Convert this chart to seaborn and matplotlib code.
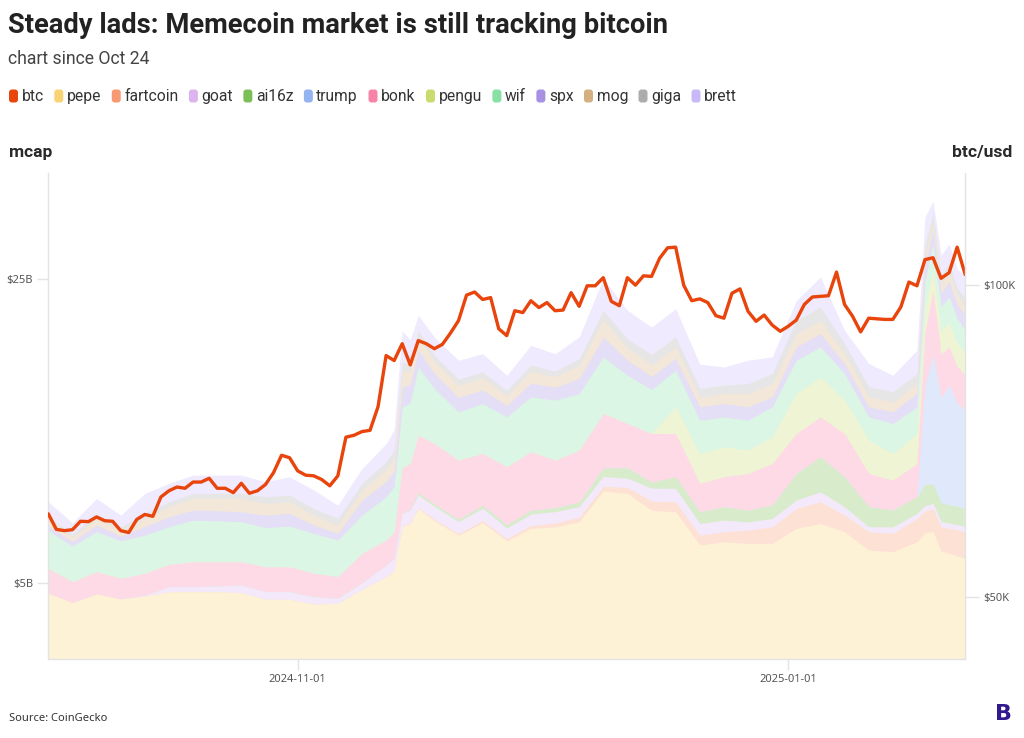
import matplotlib.pyplot as plt
import matplotlib.colors as mcolors
from matplotlib.patches import FancyBboxPatch
import seaborn as sns
import pandas as pd
import numpy as np

plt.switch_backend('Agg')
sns.set_theme(style="white")
COND = ['Liberation Sans Narrow', 'Roboto', 'DejaVu Sans']
plain = ['Noto Sans', 'DejaVu Sans']
plt.rcParams['font.family'] = COND

# ---- data -----------------------------------------------------------------
START = "2024-10-01"

# btc/usd (thousand $), one value per day from START
btc = [63.3, 60.8, 60.6, 60.75, 62.1, 62.05, 62.8, 62.2, 62.1, 60.6,
       60.3, 62.4, 63.2, 62.9, 66.0, 67.0, 67.6, 67.4, 68.4, 68.4,
       69.0, 67.4, 67.4, 66.7, 68.2, 66.6, 67.0, 68.0, 69.9, 72.7,
       72.3, 70.2, 69.5, 69.4, 68.8, 67.8, 69.4, 75.6, 75.9, 76.5,
       76.7, 80.5, 88.7, 87.9, 90.6, 87.2, 91.1, 90.6, 89.8, 90.5,
       92.3, 94.3, 98.4, 98.9, 97.7, 98.0, 93.0, 91.9, 95.9, 95.6,
       97.5, 96.4, 97.2, 95.9, 96.0, 98.8, 96.6, 99.9, 99.9, 101.2,
       97.4, 96.7, 101.2, 100.0, 101.5, 101.4, 104.3, 106.0, 106.1, 100.0,
       97.5, 97.8, 97.2, 95.1, 94.7, 98.7, 99.4, 95.8, 94.2, 95.2,
       93.6, 92.6, 93.4, 94.4, 96.9, 98.1, 98.2, 98.3, 102.1, 96.9,
       95.0, 92.5, 94.7, 94.6, 94.5, 94.5, 96.5, 100.5, 99.9, 104.1,
       104.4, 101.1, 102.0, 106.1, 101.7]

# memecoin market caps ($B), sampled on these day offsets from START
mcap_day = [0, 3, 6, 9, 12, 15, 18, 21, 24, 27, 30, 33, 36, 39, 42, 43, 44,
            45, 46, 48, 51, 54, 57, 60, 63, 66, 69, 72, 75, 78, 81, 84, 87, 90,
            93, 96, 99, 102, 105, 108, 109, 110, 111, 112, 113, 114]

pepe = [4.32, 3.71, 4.28, 3.95, 4.14, 4.43, 4.43, 4.43, 4.36, 3.93, 3.93, 3.62, 3.66, 4.58, 5.41,
        5.80, 8.70,
        8.92, 9.90, 9.10, 8.15, 8.97, 7.78, 8.59, 8.70, 9.03, 11.07, 10.90, 9.80, 9.69, 7.50, 7.72, 7.61,
        7.61, 8.60, 8.92, 8.38, 7.17, 7.06, 7.72,
        8.30, 8.40, 7.10, 6.95, 6.80, 6.63]
fartcoin = [0, 0, 0, 0, 0, 0, 0, 0, 0, 0, 0, 0, 0, 0, 0,
            0, 0.05,
            0.05, 0.05, 0.10, 0.10, 0.15, 0.15, 0.20, 0.25, 0.30, 0.30, 0.40, 0.60, 0.66, 0.66, 0.66, 0.88,
            1.09, 1.31, 1.43, 1.09, 1.21, 1.21, 1.53,
            1.45, 1.50, 1.60, 1.65, 1.70, 1.75]
goat = [0, 0, 0, 0, 0.05, 0.33, 0.33, 0.37, 0.51, 0.50, 0.50, 0.48, 0.33, 0.44, 0.77,
        0.80, 0.85,
        0.83, 0.85, 0.85, 0.80, 0.80, 0.70, 0.75, 0.75, 0.70, 0.65, 0.60, 0.85, 0.88, 0.76, 0.76, 0.54,
        0.55, 0.55, 0.66, 0.55, 0.33, 0.43, 0.33,
        0.35, 0.35, 0.35, 0.35, 0.35, 0.35]
ai16z = [0, 0, 0, 0, 0, 0, 0, 0, 0, 0, 0, 0, 0, 0, 0,
         0, 0,
         0.05, 0.13, 0.15, 0.15, 0.20, 0.20, 0.25, 0.25, 0.30, 0.55, 0.70, 0.40, 0.76, 0.77, 0.88, 0.77,
         0.88, 1.75, 2.30, 1.97, 1.32, 1.10, 1.10,
         1.40, 1.30, 1.25, 1.20, 1.20, 1.15]
trump = [0, 0, 0, 0, 0, 0, 0, 0, 0, 0, 0, 0, 0, 0, 0,
         0, 0,
         0, 0, 0, 0, 0, 0, 0, 0, 0, 0, 0, 0, 0, 0, 0, 0,
         0, 0, 0, 0, 0, 0, 0,
         6.50, 8.50, 6.90, 7.90, 6.80, 6.50]
bonk = [1.64, 1.38, 1.47, 1.36, 1.45, 1.47, 1.64, 1.60, 1.53, 1.64, 1.64, 1.54, 1.43, 1.93, 1.65,
        1.75, 3.00,
        3.02, 3.80, 3.99, 3.89, 3.41, 3.82, 3.85, 3.14, 3.42, 3.59, 2.90, 3.20, 2.85, 1.87, 1.98, 2.41,
        2.74, 2.63, 2.63, 2.85, 2.19, 1.97, 2.19,
        3.50, 4.20, 2.90, 2.50, 2.40, 2.30]
pengu = [0, 0, 0, 0, 0, 0, 0, 0, 0, 0, 0, 0, 0, 0, 0,
         0, 0,
         0, 0, 0, 0, 0, 0, 0, 0, 0, 0, 0, 0, 1.76, 1.97, 1.97, 1.54,
         1.76, 2.64, 2.63, 2.20, 2.20, 1.76, 1.97,
         1.60, 1.50, 1.50, 1.60, 1.55, 1.50]
wif = [2.48, 2.35, 2.63, 2.48, 2.52, 2.48, 2.74, 2.70, 2.64, 2.59, 2.68, 2.63, 2.41, 2.52, 2.85,
       3.00, 4.00,
       4.00, 4.50, 3.61, 3.18, 3.29, 3.29, 3.62, 3.95, 3.72, 3.73, 3.18, 2.90, 2.41, 2.19, 1.97, 1.97,
       1.97, 2.19, 1.98, 1.75, 1.53, 1.97, 1.76,
       1.80, 1.60, 1.60, 1.70, 1.60, 1.50]
spx = [0.31, 0.30, 0.44, 0.30, 0.55, 0.65, 0.66, 0.66, 0.65, 0.81, 0.83, 0.55, 0.44, 0.99, 1.00,
       1.05, 1.30,
       1.20, 1.10, 1.00, 0.95, 0.90, 0.75, 0.90, 0.85, 1.00, 1.30, 1.00, 0.85, 0.77, 0.88, 0.88, 0.88,
       0.66, 0.88, 0.87, 0.66, 0.66, 0.77, 0.88,
       1.00, 0.90, 0.90, 1.00, 0.95, 0.95]
mog = [0.35, 0.28, 0.43, 0.40, 0.54, 0.66, 0.77, 0.81, 0.88, 0.77, 0.77, 0.65, 0.55, 0.66, 0.80,
       0.85, 1.00,
       0.90, 0.85, 0.80, 0.80, 0.80, 0.65, 0.80, 0.70, 0.85, 1.15, 0.85, 0.75, 0.77, 0.66, 0.66, 0.88,
       0.87, 0.87, 0.88, 0.66, 0.66, 0.66, 0.65,
       0.70, 0.60, 0.60, 0.65, 0.60, 0.60]
giga = [0.26, 0.20, 0.29, 0.22, 0.33, 0.33, 0.33, 0.33, 0.33, 0.44, 0.44, 0.44, 0.43, 0.44, 0.50,
        0.50, 0.60,
        0.55, 0.45, 0.40, 0.40, 0.38, 0.34, 0.40, 0.35, 0.45, 0.60, 0.55, 0.70, 0.66, 0.55, 0.55, 0.65,
        0.66, 0.88, 0.88, 0.66, 0.66, 0.66, 0.66,
        0.60, 0.50, 0.50, 0.55, 0.50, 0.50]
brett = [0.99, 0.75, 1.03, 0.76, 1.32, 1.21, 1.21, 1.21, 1.21, 0.99, 1.21, 1.21, 0.88, 0.98, 1.20,
         1.35, 2.10,
         1.50, 1.00, 1.20, 1.25, 1.20, 1.00, 1.29, 1.16, 1.43, 2.10, 1.88, 1.80, 1.86, 1.60, 1.20, 1.54,
         1.10, 1.30, 1.97, 0.87, 1.53, 1.09, 1.54,
         1.90, 0.80, 1.40, 1.25, 1.25, 1.47]

coins = ["pepe", "fartcoin", "goat", "ai16z", "trump", "bonk", "pengu",
         "wif", "spx", "mog", "giga", "brett"]
layers = [pepe, fartcoin, goat, ai16z, trump, bonk, pengu, wif, spx, mog, giga, brett]
colores = {
    "btc": "#e8440c", "pepe": "#f8d274", "fartcoin": "#f79a74", "goat": "#dcb4f0",
    "ai16z": "#7dbf56", "trump": "#94b4f0", "bonk": "#f783a8", "pengu": "#c8dc70",
    "wif": "#88e0a4", "spx": "#a890e4", "mog": "#d4b080", "giga": "#acacac",
    "brett": "#c8b8f8",
}


def aclarar(c, a=0.3):
    """mezcla el color con blanco (relleno de las areas)"""
    rgb = np.array(mcolors.to_rgb(c))
    return tuple(a * rgb + (1 - a))


# ---- figure ---------------------------------------------------------------
W, H = 1024, 738
fig = plt.figure(figsize=(W / 100, H / 100), dpi=100)
ax = fig.add_axes([48.3 / W, 1 - 659 / H, (965.2 - 48.3) / W, (659 - 173) / H])
ax2 = ax.twinx()

start = pd.Timestamp(START)
mcap_dates = start + pd.to_timedelta(mcap_day, unit="D")
btc_dates = pd.date_range(START, periods=len(btc), freq="D")

# areas apiladas: se pintan de arriba a abajo desde 0 para evitar costuras
acum = np.cumsum(np.array(layers, dtype=float), axis=0)
for i in range(len(coins) - 1, -1, -1):
    ax.fill_between(mcap_dates, 0, acum[i], color=aclarar(colores[coins[i]]),
                    linewidth=0, zorder=1)

sns.lineplot(x=btc_dates, y=btc, ax=ax2, color=colores["btc"], linewidth=2.4,
             solid_joinstyle="round", solid_capstyle="round")

ax.set_xlim(start, start + pd.Timedelta(days=114))
ax.set_ylim(0, 32)
ax2.set_ylim(40, 118)

grey = "#e3e3e3"
ax.set_yticks([5, 25])
ax.set_yticklabels(["$5B", "$25B"], family=plain)
ax2.set_yticks([50, 100])
ax2.set_yticklabels(["$50K", "$100K"], family=plain)
ax.set_xticks([pd.Timestamp("2024-11-01"), pd.Timestamp("2025-01-01")])
ax.set_xticklabels(["2024-11-01", "2025-01-01"], family=plain)
ax.tick_params(axis="y", length=8, width=1, color=grey, labelcolor="#555555",
               labelsize=8, pad=3, left=True)
ax.tick_params(axis="x", length=8, width=1, color=grey, labelcolor="#555555",
               labelsize=8, pad=3, bottom=True)
ax2.tick_params(axis="y", length=10, width=1, color=grey, labelcolor="#555555",
                labelsize=8, pad=3, right=True)
for a in (ax, ax2):
    a.set_xlabel("")
    a.set_ylabel("")
    a.grid(False)
    for s in a.spines.values():
        s.set_color(grey)
        s.set_linewidth(1)
    a.spines["top"].set_visible(False)
ax2.spines["left"].set_visible(False)
ax2.spines["bottom"].set_visible(False)
ax.spines["right"].set_visible(False)

# ---- textos ---------------------------------------------------------------
r = fig.canvas.get_renderer()


def ajustar(t, ancho):
    w = t.get_window_extent(renderer=r).width
    t.set_fontsize(t.get_fontsize() * ancho / w)


def fy(py):
    return 1 - py / H


t = fig.text(8 / W, fy(33), "Steady lads: Memecoin market is still tracking bitcoin",
             fontsize=19, fontweight="bold", color="#222222", va="baseline")
ajustar(t, 660)
t = fig.text(8 / W, fy(64), "chart since Oct 24", fontsize=13, color="#444444", va="baseline")
ajustar(t, 142)
t = fig.text(9 / W, fy(157), "mcap", fontsize=12, fontweight="bold", color="#2a2a2a",
             va="baseline")
ajustar(t, 43)
t = fig.text(1012 / W, fy(157), "btc/usd", fontsize=12, fontweight="bold", color="#2a2a2a",
             va="baseline", ha="right")
ajustar(t, 60)
t = fig.text(9 / W, fy(721), "Source: CoinGecko", fontsize=8, color="#333333",
             va="baseline", family=plain)
ajustar(t, 98)
fig.text(1003.5 / W, fy(714), "B", fontsize=16, fontweight="black", color="#33198f",
         ha="center", va="center", family=['DejaVu Sans'])

# leyenda hecha a mano: marcador redondeado + nombre
prueba = fig.text(0, 0, "fartcoin", fontsize=13)
ajustar(prueba, 54)
fs_ley = prueba.get_fontsize()
prueba.remove()

x = 9.0
for nombre in ["btc"] + coins:
    caja = FancyBboxPatch((x / 100, (H - 102.5) / 100), 0.09, 0.13,
                          boxstyle="round,pad=0,rounding_size=0.03",
                          transform=fig.dpi_scale_trans, fc=colores[nombre], ec="none")
    fig.patches.append(caja)
    t = fig.text((x + 12.5) / W, fy(101), nombre, fontsize=fs_ley, color="#333333",
                 va="baseline")
    x = x + 12.5 + t.get_window_extent(renderer=r).width + 10.5

fig.savefig("out.png", dpi=100)
